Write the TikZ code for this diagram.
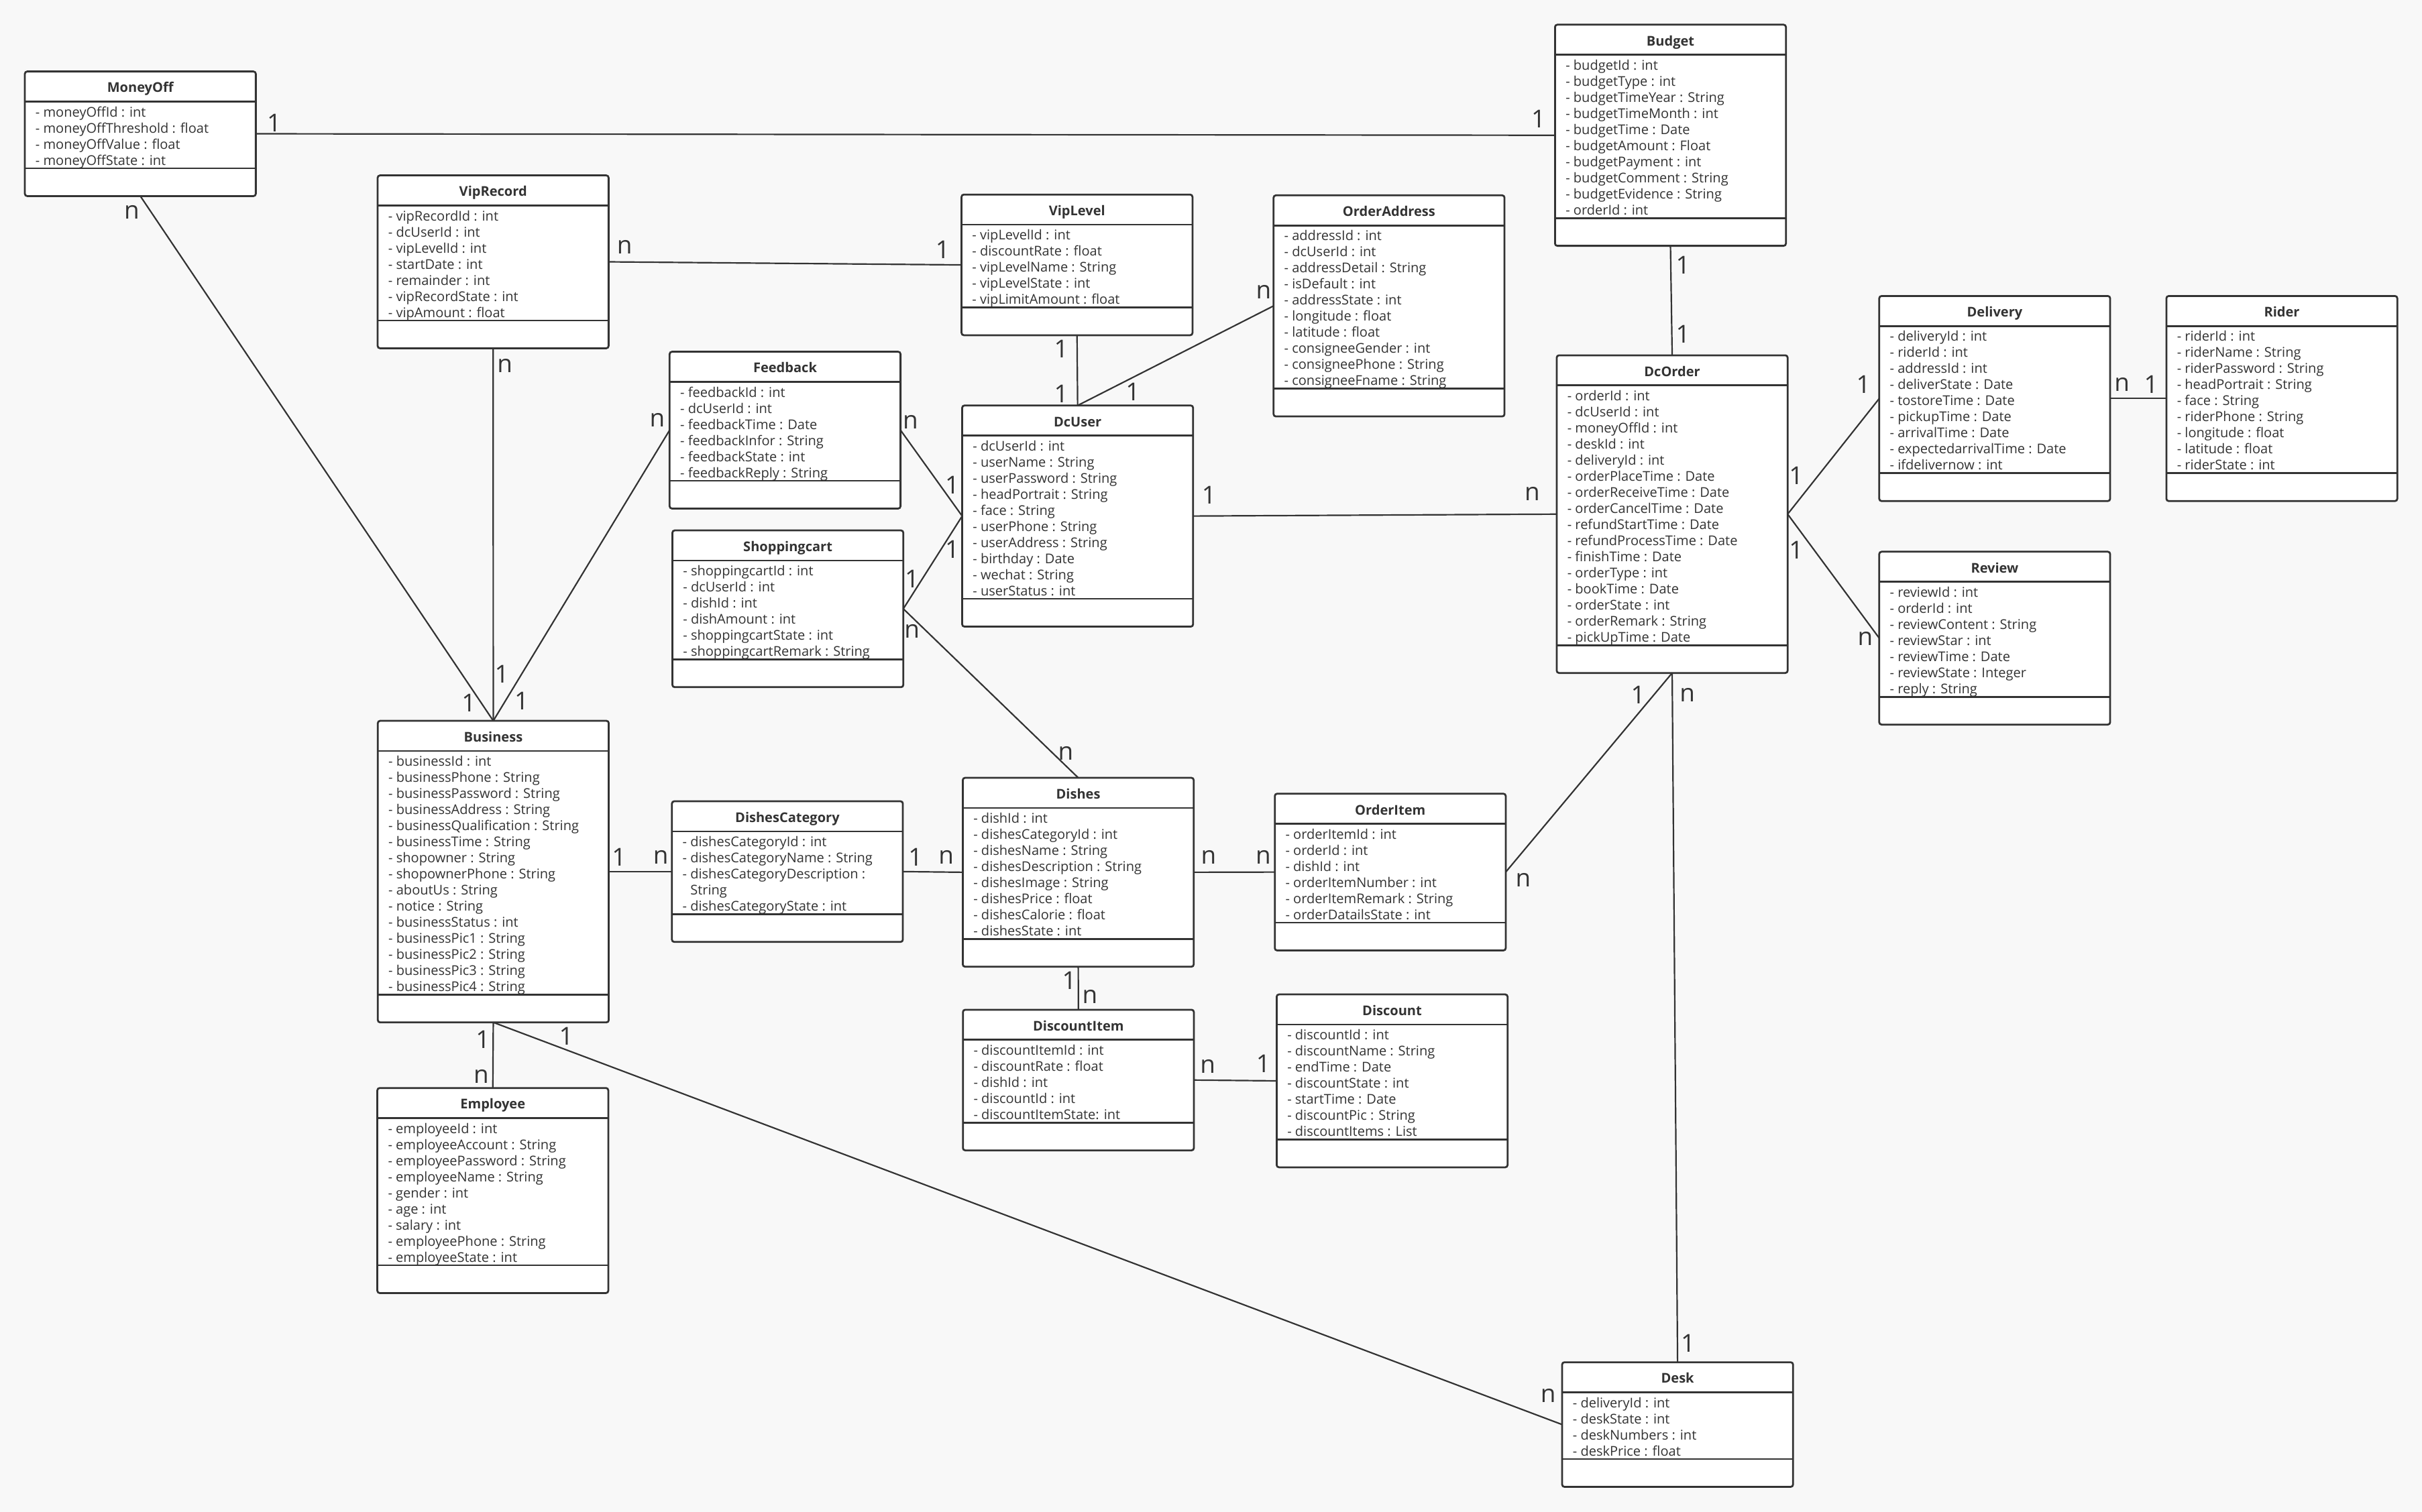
\documentclass[tikz,border=0pt]{standalone}
\usepackage{fontspec}
\setmainfont{Open Sans}
\usetikzlibrary{calc}

\definecolor{ink}{HTML}{333333}
\definecolor{paper}{HTML}{F8F8F8}

% class box: name, left, top, number of attribute lines, title, attributes
\newcommand{\umlclass}[6]{%
  \pgfmathsetmacro{\clsh}{39+10.42*#4}
  \pgfmathsetmacro{\clsm}{21+10.42*#4}
  \node[classbox, minimum height=\clsh pt] (#1) at (#2,#3) {};
  \node[classname] (#1-title) at ($(#1.north)+(0,13.6)$) {#5};
  \draw[sepline] ($(#1.north west)+(0,19.5)$) -- ($(#1.north east)+(0,19.5)$);
  \draw[sepline] ($(#1.north west)+(0,\clsm)$) -- ($(#1.north east)+(0,\clsm)$);
  \foreach \attr [count=\k] in {#6}
    \node[attrtext] (#1-\k) at ($(#1.north west)+(6.7,{29.3+10.42*(\k-1)})$) {\attr};
}

\begin{document}
\begin{tikzpicture}[x=1pt, y=-1pt,
  classbox/.style={draw=ink, fill=white, line width=1.2pt, rounded corners=1.5pt,
    anchor=north west, minimum width=149.5pt, inner sep=0pt, outer sep=0pt},
  sepline/.style={draw=ink, line width=1.2pt},
  classname/.style={anchor=base, inner sep=0pt, text=ink, font=\fontsize{8.7}{10}\selectfont\bfseries},
  attrtext/.style={anchor=base west, inner sep=0pt, text=ink, font=\fontsize{8.7}{10}\selectfont},
  link/.style={draw=ink, line width=0.95pt},
  mult/.style={anchor=center, inner sep=0pt, text=ink, font=\fontsize{16}{16}\selectfont}]

\fill[paper] (0,0) rectangle (1568,979);

% classes
\umlclass{moneyoff}{16.1}{46.3}{4}{MoneyOff}{- moneyOffId : int, - moneyOffThreshold : float, - moneyOffValue : float, - moneyOffState : int}
\umlclass{budget}{1006.7}{16}{10}{Budget}{- budgetId : int, - budgetType : int, - budgetTimeYear : String, - budgetTimeMonth : int, - budgetTime : Date, - budgetAmount : Float, - budgetPayment : int, - budgetComment : String, - budgetEvidence : String, - orderId : int}
\umlclass{viprecord}{244.5}{113.6}{7}{VipRecord}{- vipRecordId : int, - dcUserId : int, - vipLevelId : int, - startDate : int, - remainder : int, - vipRecordState : int, - vipAmount : float}
\umlclass{viplevel}{622.5}{126}{5}{VipLevel}{- vipLevelId : int, - discountRate : float, - vipLevelName : String, - vipLevelState : int, - vipLimitAmount : float}
\umlclass{orderaddress}{824.5}{126.5}{10}{OrderAddress}{- addressId : int, - dcUserId : int, - addressDetail : String, - isDefault : int, - addressState : int, - longitude : float, - latitude : float, - consigneeGender : int, - consigneePhone : String, - consigneeFname : String}
\umlclass{feedback}{433.5}{227.8}{6}{Feedback}{- feedbackId : int, - dcUserId : int, - feedbackTime : Date, - feedbackInfor : String, - feedbackState : int, - feedbackReply : String}
\umlclass{dcuser}{622.9}{262.6}{10}{DcUser}{- dcUserId : int, - userName : String, - userPassword : String, - headPortrait : String, - face : String, - userPhone : String, - userAddress : String, - birthday : Date, - wechat : String, - userStatus : int}
\umlclass{shoppingcart}{435.3}{343.5}{6}{Shoppingcart}{- shoppingcartId : int, - dcUserId : int, - dishId : int, - dishAmount : int, - shoppingcartState : int, - shoppingcartRemark : String}
\umlclass{dcorder}{1007.8}{230.1}{16}{DcOrder}{- orderId : int, - dcUserId : int, - moneyOffId : int, - deskId : int, - deliveryId : int, - orderPlaceTime : Date, - orderReceiveTime : Date, - orderCancelTime : Date, - refundStartTime : Date, - refundProcessTime : Date, - finishTime : Date, - orderType : int, - bookTime : Date, - orderState : int, - orderRemark : String, - pickUpTime : Date}
\umlclass{delivery}{1216.6}{191.7}{9}{Delivery}{- deliveryId : int, - riderId : int, - addressId : int, - deliverState : Date, - tostoreTime : Date, - pickupTime : Date, - arrivalTime : Date, - expectedarrivalTime : Date, - ifdelivernow : int}
\umlclass{rider}{1402.5}{191.7}{9}{Rider}{- riderId : int, - riderName : String, - riderPassword : String, - headPortrait : String, - face : String, - riderPhone : String, - longitude : float, - latitude : float, - riderState : int}
\umlclass{review}{1216.6}{357.3}{7}{Review}{- reviewId : int, - orderId : int, - reviewContent : String, - reviewStar : int, - reviewTime : Date, - reviewState : Integer, - reply : String}
\umlclass{business}{244.6}{466.8}{15}{Business}{- businessId : int, - businessPhone : String, - businessPassword : String, - businessAddress : String, - businessQualification : String, - businessTime : String, - shopowner : String, - shopownerPhone : String, - aboutUs : String, - notice : String, - businessStatus : int, - businessPic1 : String, - businessPic2 : String, - businessPic3 : String, - businessPic4 : String}
\umlclass{dishescategory}{435}{518.9}{5}{DishesCategory}{- dishesCategoryId : int, - dishesCategoryName : String, - dishesCategoryDescription :, \phantom{- }String, - dishesCategoryState : int}
\umlclass{dishes}{623.3}{503.7}{8}{Dishes}{- dishId : int, - dishesCategoryId : int, - dishesName : String, - dishesDescription : String, - dishesImage : String, - dishesPrice : float, - dishesCalorie : float, - dishesState : int}
\umlclass{orderitem}{825.3}{514}{6}{OrderItem}{- orderItemId : int, - orderId : int, - dishId : int, - orderItemNumber : int, - orderItemRemark : String, - orderDatailsState : int}
\umlclass{discountitem}{623.4}{653.9}{5}{DiscountItem}{- discountItemId : int, - discountRate : float, - dishId : int, - discountId : int, - discountItemState: int}
\umlclass{discount}{826.5}{644}{7}{Discount}{- discountId : int, - discountName : String, - endTime : Date, - discountState : int, - startTime : Date, - discountPic : String, - discountItems : List}
\umlclass{employee}{244.3}{704.6}{9}{Employee}{- employeeId : int, - employeeAccount : String, - employeePassword : String, - employeeName : String, - gender : int, - age : int, - salary : int, - employeePhone : String, - employeeState : int}
\umlclass{desk}{1011.3}{882.2}{4}{Desk}{- deliveryId : int, - deskState : int, - deskNumbers : int, - deskPrice : float}

% associations
\draw[link] (moneyoff.east) -- (budget.west);
\draw[link] (moneyoff.south) -- (business.north);
\draw[link] (viprecord.south) -- (business.north);
\draw[link] (feedback.west) -- (business.north);
\draw[link] (viprecord.east) -- (viplevel.west);
\draw[link] (viplevel.south) -- (dcuser.north);
\draw[link] (dcuser.north) -- (orderaddress.west);
\draw[link] (feedback.east) -- (dcuser.west);
\draw[link] (shoppingcart.east) -- (dcuser.west);
\draw[link] (shoppingcart.east) -- (dishes.north);
\draw[link] (dcuser.east) -- (dcorder.west);
\draw[link] (budget.south) -- (dcorder.north);
\draw[link] (dcorder.east) -- (delivery.west);
\draw[link] (dcorder.east) -- (review.west);
\draw[link] (delivery.east) -- (rider.west);
\draw[link] (dcorder.south) -- (orderitem.east);
\draw[link] (dcorder.south) -- (desk.north);
\draw[link] (business.east) -- (dishescategory.west);
\draw[link] (dishescategory.east) -- (dishes.west);
\draw[link] (dishes.east) -- (orderitem.west);
\draw[link] (dishes.south) -- (discountitem.north);
\draw[link] (discountitem.east) -- (discount.west);
\draw[link] (business.south) -- (employee.north);
\draw[link] (business.south) -- (desk.west);

% multiplicities
\foreach \x/\y/\t [count=\i] in {177.5/79.6/1, 996/77/1, 85.3/137.5/n, 404.3/159.9/n, 610.3/161.8/1,
    326.8/236.7/n, 324.9/436.4/1, 303.5/455.2/1, 425.5/272/n, 337.7/453.8/1,
    687/225.8/1, 687/254.9/1, 733.4/253.9/1, 818/189/n, 589.4/273.3/n, 616.4/314/1,
    616.4/355.6/1, 590.4/375.1/1, 590.4/409/n, 690/487.8/n, 782.7/320.8/1, 992/320/n,
    1089.5/171.5/1, 1089.5/216.5/1, 1162.8/308/1, 1206.3/249/1, 1373.7/249/n, 1392.6/249/1,
    1162.8/356/1, 1207.5/413.4/n, 1060.4/449.9/1, 986.1/570/n, 1092.4/449.9/n, 1092.8/869.9/1,
    400.8/555/1, 427.8/555/n, 592.7/555/1, 612.5/555/n, 782.4/555/n, 817.8/555/n,
    692.2/634.8/1, 705.6/645.6/n, 781.9/690.5/n, 817.8/688.8/1,
    312.6/673/1, 311.5/697/n, 366.6/670.9/1, 1002.3/903.9/n}
  \node[mult] (m\i) at (\x,\y) {\t};

\end{tikzpicture}
\end{document}
